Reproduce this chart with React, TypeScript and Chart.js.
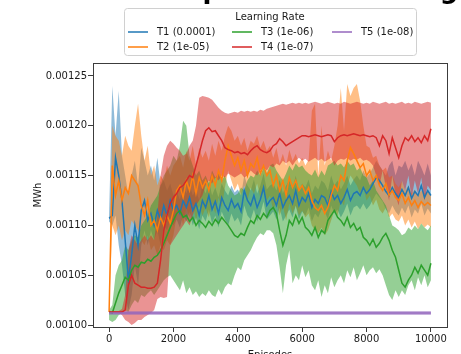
import React, { useEffect, useRef } from "react";
import { Chart, registerables } from "chart.js";

Chart.register(...registerables);

// values are stored in micro-MWh (1e-6 MWh)
const UNIT = 1e-6;

const TITLE = "Power Consumption vs Learning";
const LEGEND_TITLE = "Learning Rate";
const X_TITLE = "Episodes";
const Y_TITLE = "MWh";

const X_TICKS = [0, 2000, 4000, 6000, 8000, 10000];
const Y_TICKS = [0.001, 0.00105, 0.0011, 0.00115, 0.0012, 0.00125];

const EPISODES = [
  0, 100, 200, 300, 400, 500, 600, 700, 800, 900,
  1000, 1100, 1200, 1300, 1400, 1500, 1600, 1700, 1800, 1900,
  2000, 2100, 2200, 2300, 2400, 2500, 2600, 2700, 2800, 2900,
  3000, 3100, 3200, 3300, 3400, 3500, 3600, 3700, 3800, 3900,
  4000, 4100, 4200, 4300, 4400, 4500, 4600, 4700, 4800, 4900,
  5000, 5100, 5200, 5300, 5400, 5500, 5600, 5700, 5800, 5900,
  6000, 6100, 6200, 6300, 6400, 6500, 6600, 6700, 6800, 6900,
  7000, 7100, 7200, 7300, 7400, 7500, 7600, 7700, 7800, 7900,
  8000, 8100, 8200, 8300, 8400, 8500, 8600, 8700, 8800, 8900,
  9000, 9100, 9200, 9300, 9400, 9500, 9600, 9700, 9800, 9900, 10000,
];

const T1_MEAN = [
  1107, 1110, 1168, 1150, 1125, 1085, 1045, 1070, 1100, 1080,
  1115, 1125, 1105, 1112, 1100, 1115, 1105, 1120, 1110, 1125,
  1115, 1120, 1112, 1125, 1118, 1128, 1115, 1122, 1110, 1125,
  1118, 1130, 1116, 1124, 1112, 1128, 1120, 1115, 1126, 1118,
  1122, 1114, 1135, 1125, 1120, 1130, 1118, 1126, 1138, 1120,
  1125, 1128, 1120, 1132, 1118, 1125, 1130, 1122, 1135, 1120,
  1128, 1124, 1132, 1118, 1126, 1122, 1130, 1128, 1120, 1134,
  1126, 1130, 1122, 1128, 1136, 1125, 1132, 1134, 1130, 1138,
  1132, 1136, 1142, 1148, 1145, 1140, 1134, 1130, 1138, 1132,
  1128, 1136, 1130, 1138, 1127, 1134, 1130, 1140, 1128, 1135, 1130,
];
const T1_UPPER = [
  1110, 1240, 1190, 1235, 1170, 1150, 1130, 1150, 1165, 1140,
  1178, 1165, 1150, 1160, 1145, 1168, 1140, 1145, 1135, 1142,
  1130, 1134, 1126, 1140, 1132, 1142, 1130, 1136, 1125, 1140,
  1132, 1145, 1130, 1138, 1128, 1142, 1135, 1130, 1140, 1133,
  1136, 1130, 1150, 1140, 1135, 1146, 1132, 1140, 1152, 1136,
  1140, 1142, 1135, 1146, 1132, 1140, 1145, 1136, 1150, 1134,
  1142, 1138, 1146, 1132, 1140, 1136, 1145, 1142, 1135, 1150,
  1140, 1145, 1136, 1142, 1150, 1140, 1146, 1150, 1145, 1155,
  1148, 1152, 1158, 1165, 1160, 1155, 1150, 1160, 1165, 1150,
  1160, 1158, 1165, 1155, 1162, 1150, 1165, 1158, 1150, 1162, 1150,
];
const T1_LOWER = [
  1104, 1100, 1110, 1080, 1060, 1030, 1015, 1030, 1060, 1040,
  1080, 1095, 1080, 1095, 1085, 1095, 1080, 1100, 1095, 1105,
  1100, 1106, 1098, 1110, 1104, 1114, 1100, 1108, 1096, 1110,
  1104, 1116, 1102, 1110, 1098, 1114, 1106, 1100, 1112, 1104,
  1108, 1100, 1120, 1110, 1106, 1116, 1104, 1112, 1124, 1106,
  1110, 1114, 1106, 1118, 1104, 1110, 1116, 1108, 1120, 1106,
  1114, 1110, 1118, 1104, 1112, 1108, 1116, 1114, 1106, 1120,
  1112, 1116, 1108, 1114, 1122, 1110, 1118, 1120, 1116, 1122,
  1116, 1120, 1126, 1132, 1128, 1124, 1116, 1112, 1120, 1114,
  1110, 1118, 1112, 1120, 1108, 1116, 1112, 1122, 1110, 1117, 1112,
];

const T2_MEAN = [
  1013, 1160, 1130, 1145, 1125, 1138, 1132, 1150, 1145, 1140,
  1120, 1110, 1125, 1100, 1105, 1095, 1108, 1100, 1110, 1102,
  1115, 1135, 1140, 1128, 1145, 1135, 1150, 1132, 1148, 1138,
  1145, 1135, 1150, 1140, 1155, 1145, 1165, 1180, 1170, 1160,
  1168, 1155, 1165, 1150, 1162, 1158, 1168, 1152, 1160, 1150,
  1155, 1140, 1150, 1135, 1145, 1130, 1148, 1138, 1145, 1135,
  1140, 1132, 1138, 1125, 1118, 1115, 1120, 1112, 1118, 1130,
  1140, 1135, 1150, 1145, 1165, 1178, 1172, 1165, 1158, 1162,
  1150, 1155, 1145, 1150, 1140, 1135, 1142, 1130, 1135, 1128,
  1125, 1132, 1122, 1128, 1120, 1125, 1118, 1124, 1120, 1123, 1120,
];
const T2_UPPER = [
  1013, 1200, 1190, 1185, 1170, 1190, 1180, 1175, 1200, 1222,
  1190, 1165, 1180, 1150, 1160, 1140, 1150, 1145, 1160, 1150,
  1160, 1165, 1170, 1158, 1175, 1165, 1180, 1160, 1178, 1168,
  1175, 1165, 1182, 1170, 1185, 1175, 1190, 1200, 1195, 1185,
  1190, 1180, 1188, 1175, 1185, 1182, 1190, 1178, 1185, 1175,
  1180, 1168, 1178, 1162, 1172, 1160, 1176, 1165, 1172, 1162,
  1168, 1160, 1166, 1215, 1222, 1150, 1200, 1160, 1175, 1165,
  1180, 1200, 1238, 1195, 1242, 1230, 1238, 1242, 1225, 1200,
  1180, 1178, 1168, 1170, 1160, 1155, 1158, 1148, 1150, 1142,
  1138, 1145, 1135, 1140, 1132, 1136, 1130, 1135, 1132, 1134, 1130,
];
const T2_LOWER = [
  1013, 1100, 1090, 1100, 1085, 1095, 1090, 1105, 1100, 1095,
  1085, 1080, 1090, 1075, 1080, 1070, 1080, 1075, 1085, 1080,
  1090, 1110, 1115, 1100, 1118, 1108, 1122, 1105, 1120, 1110,
  1118, 1108, 1122, 1112, 1128, 1118, 1138, 1155, 1145, 1135,
  1142, 1130, 1140, 1125, 1138, 1132, 1142, 1128, 1135, 1125,
  1130, 1115, 1125, 1110, 1120, 1105, 1122, 1112, 1120, 1110,
  1115, 1108, 1112, 1100, 1095, 1092, 1098, 1090, 1095, 1105,
  1115, 1110, 1125, 1120, 1140, 1150, 1145, 1140, 1132, 1138,
  1125, 1130, 1120, 1126, 1116, 1112, 1118, 1108, 1112, 1106,
  1104, 1110, 1100, 1106, 1098, 1104, 1096, 1102, 1098, 1101, 1098,
];

const T3_MEAN = [
  1013, 1012, 1022, 1032, 1040, 1048, 1045, 1055, 1060, 1058,
  1063, 1062, 1066, 1064, 1068, 1070, 1075, 1082, 1090, 1098,
  1105, 1112, 1115, 1108, 1110, 1104, 1108, 1100, 1105, 1102,
  1098, 1104, 1100, 1106, 1102, 1108, 1104, 1100, 1095, 1090,
  1088, 1092, 1090, 1098, 1105, 1102, 1110, 1106, 1112, 1108,
  1115, 1118, 1112, 1095, 1080, 1090, 1105, 1100, 1110, 1102,
  1108, 1098, 1095, 1090, 1098, 1088, 1095, 1092, 1105, 1110,
  1115, 1108, 1105, 1100, 1108, 1098, 1102, 1095, 1098, 1088,
  1085, 1080, 1086, 1078, 1082, 1088, 1092, 1085, 1075, 1068,
  1055, 1042, 1038, 1045, 1050, 1058, 1052, 1060, 1055, 1050, 1062,
];
const T3_UPPER = [
  1015, 1020, 1050, 1060, 1065, 1080, 1075, 1085, 1090, 1088,
  1100, 1105, 1110, 1120, 1125, 1130, 1140, 1150, 1155, 1160,
  1170, 1165, 1180, 1205, 1200, 1170, 1160, 1150, 1155, 1145,
  1150, 1142, 1155, 1148, 1152, 1145, 1150, 1140, 1135, 1130,
  1132, 1138, 1135, 1145, 1150, 1148, 1155, 1150, 1158, 1152,
  1160, 1162, 1155, 1150, 1145, 1152, 1160, 1155, 1162, 1158,
  1160, 1155, 1152, 1150, 1156, 1148, 1155, 1150, 1160, 1162,
  1165, 1160, 1162, 1158, 1165, 1160, 1162, 1155, 1158, 1150,
  1148, 1140, 1145, 1135, 1130, 1125, 1120, 1110, 1100, 1098,
  1095, 1090, 1092, 1098, 1095, 1100, 1096, 1102, 1098, 1095, 1100,
];
const T3_LOWER = [
  1005, 1003, 1005, 1010, 1012, 1015, 1013, 1020, 1025, 1022,
  1030, 1028, 1032, 1035, 1030, 1035, 1040, 1045, 1048, 1050,
  1045, 1040, 1035, 1045, 1032, 1038, 1030, 1034, 1028, 1032,
  1029, 1035, 1030, 1028, 1036, 1030, 1038, 1042, 1040, 1050,
  1058, 1055, 1065, 1070, 1075, 1082, 1088, 1092, 1090, 1095,
  1095, 1092, 1080, 1058, 1032, 1060, 1075, 1042, 1050, 1045,
  1060, 1048, 1055, 1040, 1035, 1045, 1028, 1040, 1032, 1048,
  1038, 1045, 1050, 1042, 1055, 1048, 1058, 1045, 1052, 1060,
  1050, 1055, 1058, 1052, 1056, 1050, 1040, 1030, 1025, 1035,
  1028, 1035, 1030, 1040, 1045, 1035, 1048, 1040, 1050, 1038, 1045,
];

const T4_MEAN = [
  1013, 1013, 1013, 1013, 1013, 1015, 1040, 1050, 1042, 1040,
  1038, 1038, 1037, 1037, 1038, 1042, 1065, 1095, 1110, 1122,
  1128, 1132, 1138, 1140, 1145, 1150, 1148, 1160, 1172, 1185,
  1195, 1198, 1194, 1195, 1190, 1185, 1178, 1176, 1175, 1173,
  1174, 1172, 1173, 1171, 1175, 1178, 1180, 1176, 1174, 1173,
  1175, 1180, 1182, 1187, 1184, 1180, 1182, 1184, 1186, 1188,
  1190, 1190, 1189, 1190, 1191, 1190, 1189, 1190, 1191, 1190,
  1184, 1188, 1190, 1191, 1190, 1191, 1192, 1191, 1190, 1191,
  1190, 1189, 1190, 1188, 1180, 1190, 1185, 1172, 1188, 1178,
  1168, 1180, 1188, 1185, 1190, 1184, 1188, 1183, 1190, 1185, 1197,
];
const T4_UPPER = [
  1014, 1014, 1014, 1014, 1016, 1030, 1075, 1090, 1085, 1080,
  1085, 1090, 1085, 1090, 1085, 1110, 1150, 1170, 1180, 1185,
  1182, 1178, 1175, 1170, 1172, 1180, 1185, 1200, 1228, 1230,
  1229, 1228, 1226, 1222, 1218, 1215, 1213, 1212, 1213, 1214,
  1213, 1215, 1214, 1215, 1214, 1215, 1214, 1216, 1215, 1217,
  1218, 1219, 1220, 1221, 1222, 1221, 1222, 1223, 1222, 1223,
  1222, 1223, 1222, 1223, 1224, 1223, 1222, 1223, 1224, 1223,
  1222, 1223, 1222, 1224, 1223, 1222, 1223, 1224, 1223, 1222,
  1223, 1222, 1224, 1223, 1222, 1223, 1224, 1222, 1223, 1222,
  1223, 1224, 1222, 1223, 1222, 1224, 1223, 1222, 1223, 1224, 1223,
];
const T4_LOWER = [
  1012, 1012, 1012, 1012, 1010, 1005, 1003, 1000, 1002, 1005,
  1005, 1008, 1010, 1012, 1015, 1026, 1028, 1027, 1028, 1080,
  1085, 1090, 1095, 1100, 1105, 1100, 1110, 1120, 1125, 1130,
  1140, 1145, 1142, 1148, 1145, 1150, 1148, 1152, 1150, 1148,
  1150, 1152, 1148, 1150, 1155, 1152, 1150, 1155, 1158, 1155,
  1160, 1158, 1162, 1160, 1165, 1162, 1165, 1160, 1165, 1168,
  1165, 1167, 1164, 1166, 1168, 1165, 1167, 1164, 1166, 1168,
  1160, 1165, 1167, 1166, 1168, 1165, 1167, 1166, 1168, 1165,
  1166, 1164, 1160, 1150, 1140, 1155, 1138, 1125, 1150, 1130,
  1120, 1145, 1135, 1150, 1128, 1145, 1132, 1148, 1125, 1140, 1135,
];

const T5_EPISODES = [0, 10000];
const T5_MEAN = [1012, 1012];
const T5_UPPER = [1014, 1014];
const T5_LOWER = [1010, 1010];

const SERIES = [
  { label: "T1 (0.0001)", color: "#1f77b4", band: "rgba(31,119,180,0.5)", x: EPISODES, mean: T1_MEAN, lower: T1_LOWER, upper: T1_UPPER },
  { label: "T2 (1e-05)", color: "#ff7f0e", band: "rgba(255,127,14,0.5)", x: EPISODES, mean: T2_MEAN, lower: T2_LOWER, upper: T2_UPPER },
  { label: "T3 (1e-06)", color: "#2ca02c", band: "rgba(44,160,44,0.5)", x: EPISODES, mean: T3_MEAN, lower: T3_LOWER, upper: T3_UPPER },
  { label: "T4 (1e-07)", color: "#d62728", band: "rgba(214,39,40,0.5)", x: EPISODES, mean: T4_MEAN, lower: T4_LOWER, upper: T4_UPPER },
  { label: "T5 (1e-08)", color: "#9467bd", band: "rgba(148,103,189,0.5)", x: T5_EPISODES, mean: T5_MEAN, lower: T5_LOWER, upper: T5_UPPER },
];

const FONT = '"DejaVu Sans", sans-serif';
const TEXT = "#1a1a1a";

function toPoints(xs: number[], vs: number[]) {
  return vs.map((v, i) => ({ x: xs[i], y: v * UNIT }));
}

const overlayPlugin = {
  id: "overlay",
  afterDraw(chart: any) {
    const ctx = chart.ctx as CanvasRenderingContext2D;
    const a = chart.chartArea;
    ctx.save();
    // spines
    ctx.strokeStyle = "#3c3c3c";
    ctx.lineWidth = 1;
    ctx.strokeRect(Math.round(a.left) + 0.5, Math.round(a.top) + 0.5, Math.round(a.right - a.left), Math.round(a.bottom - a.top));

    // big title, cropped by the top edge (only descenders show)
    ctx.fillStyle = "#000";
    ctx.font = `bold 26px ${FONT}`;
    ctx.textAlign = "center";
    ctx.textBaseline = "alphabetic";
    ctx.fillText(TITLE, 222, -2);

    // legend box
    const bx = 124.5, by = 8.5, bw = 292, bh = 47;
    ctx.beginPath();
    (ctx as any).roundRect(bx, by, bw, bh, 3);
    ctx.fillStyle = "rgba(255,255,255,0.85)";
    ctx.fill();
    ctx.strokeStyle = "#d0d0d0";
    ctx.lineWidth = 1;
    ctx.stroke();

    ctx.font = `10px ${FONT}`;
    ctx.fillStyle = TEXT;
    ctx.textAlign = "center";
    ctx.textBaseline = "middle";
    ctx.fillText(LEGEND_TITLE, 270, 17);

    const colX = [128, 232, 332];
    const rowY = [32, 47];
    SERIES.forEach((s, i) => {
      const cx = colX[Math.floor(i / 2)];
      const cy = rowY[i % 2];
      ctx.strokeStyle = s.color;
      ctx.lineWidth = 1.5;
      ctx.beginPath();
      ctx.moveTo(cx, cy);
      ctx.lineTo(cx + 20, cy);
      ctx.stroke();
      ctx.fillStyle = TEXT;
      ctx.textAlign = "left";
      ctx.fillText(s.label, cx + 29, cy);
    });
    ctx.restore();
  },
};

export default function App() {
  const ref = useRef<HTMLCanvasElement | null>(null);

  useEffect(() => {
    if (!ref.current) return;
    const n = SERIES.length;
    const datasets: any[] = [];
    SERIES.forEach((s, k) => {
      datasets.push({
        label: s.label + " lower",
        data: toPoints(s.x, s.lower),
        borderWidth: 0,
        pointRadius: 0,
        fill: false,
        order: 100 + n - k,
        backgroundColor: "transparent",
        borderColor: "transparent",
      });
      datasets.push({
        label: s.label + " band",
        data: toPoints(s.x, s.upper),
        borderWidth: 0,
        pointRadius: 0,
        fill: "-1",
        backgroundColor: s.band,
        borderColor: "transparent",
        order: 100 + n - k,
      });
    });
    SERIES.forEach((s, k) => {
      datasets.push({
        label: s.label,
        data: toPoints(s.x, s.mean),
        borderColor: s.color,
        borderWidth: 1.5,
        pointRadius: 0,
        fill: false,
        tension: 0,
        order: n - k,
      });
    });

    const chart = new Chart(ref.current, {
      type: "line",
      data: { datasets },
      options: {
        animation: false,
        responsive: false,
        devicePixelRatio: 1,
        layout: { padding: { left: 0, top: 63, right: 14, bottom: 0 } },
        plugins: {
          legend: { display: false },
          tooltip: { enabled: false },
          title: { display: false },
        },
        scales: {
          x: {
            type: "linear",
            min: -500,
            max: 10500,
            afterBuildTicks: (scale: any) => {
              scale.ticks = X_TICKS.map((v) => ({ value: v }));
            },
            afterFit: (scale: any) => {
              scale.height = 27;
            },
            grid: { drawOnChartArea: false, drawTicks: true, tickLength: 5, tickColor: "#3c3c3c" },
            border: { display: false },
            ticks: {
              autoSkip: false,
              maxRotation: 0,
              padding: 1,
              color: TEXT,
              font: { family: FONT, size: 10 },
              callback: (v: any) => String(v),
            },
            title: {
              display: true,
              text: X_TITLE,
              color: TEXT,
              font: { family: FONT, size: 10 },
              padding: { top: 0, bottom: -7 },
            },
          },
          y: {
            type: "linear",
            min: 0.000998,
            max: 0.001263,
            afterBuildTicks: (scale: any) => {
              scale.ticks = Y_TICKS.map((v) => ({ value: v }));
            },
            afterFit: (scale: any) => {
              scale.width = 93;
            },
            grid: { drawOnChartArea: false, drawTicks: true, tickLength: 5, tickColor: "#3c3c3c" },
            border: { display: false },
            ticks: {
              autoSkip: false,
              padding: 1,
              color: TEXT,
              font: { family: FONT, size: 10 },
              callback: (v: any) => Number(v).toFixed(5),
            },
            title: {
              display: true,
              text: Y_TITLE,
              color: TEXT,
              font: { family: FONT, size: 10 },
              padding: { top: 32, bottom: 0 },
            },
          },
        },
      },
      plugins: [overlayPlugin],
    } as any);

    return () => chart.destroy();
  }, []);

  return (
    <div style={{ position: "fixed", left: 0, top: 0, width: 461, height: 354, background: "#fff" }}>
      <canvas ref={ref} width={461} height={354} style={{ width: 461, height: 354, display: "block" }} />
    </div>
  );
}
